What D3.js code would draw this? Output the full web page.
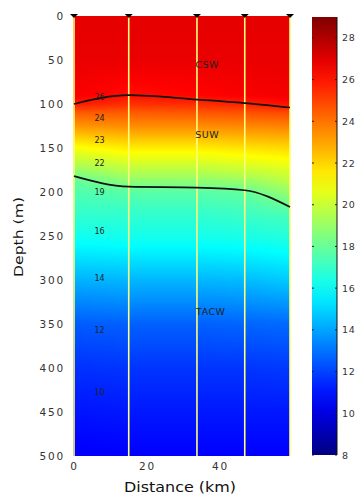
<!DOCTYPE html>
<html>
<head>
<meta charset="utf-8">
<script src="https://cdn.jsdelivr.net/npm/d3@7"></script>
<style>
  body { margin: 0; background: #fff; }
  text { font-family: "DejaVu Sans", sans-serif; }
</style>
</head>
<body>
<div id="chart"></div>
<script>
// Data
const stationKm = [0, 15, 33.7, 46.8, 59.2];
const depthLevels = [0, 50, 90, 100, 110, 125, 150, 175, 185, 200, 225, 250, 300, 350, 400, 450, 500];
// temperature profiles (°C), one per station, at depthLevels
const tempProfiles = [
  [26.9, 26.8, 26.5, 25.9, 24.5, 23.3, 21.0, 19.0, 18.0, 17.5, 16.9, 16.2, 14.3, 12.5, 11.6, 11.0, 10.5],
  [26.9, 26.8, 26.1, 25.4, 24.5, 23.5, 21.5, 19.7, 19.0, 17.7, 16.9, 16.3, 14.4, 12.6, 11.7, 11.1, 10.6],
  [26.9, 26.8, 26.3, 25.5, 24.6, 23.5, 21.5, 19.7, 19.0, 17.7, 16.9, 16.3, 14.4, 12.6, 11.7, 11.1, 10.6],
  [26.9, 26.8, 26.5, 25.7, 24.7, 23.6, 21.7, 20.0, 19.2, 17.9, 17.1, 16.4, 14.5, 12.7, 11.7, 11.1, 10.6],
  [26.9, 26.8, 26.6, 26.1, 24.9, 23.7, 21.9, 20.4, 19.9, 19.0, 17.4, 16.6, 14.8, 12.8, 11.8, 11.1, 10.6]
];
// water mass boundaries
const upperKm = [0, 15, 33.7, 46.8, 59.2];
const upperDepth = [100, 90, 95, 99, 104];
const lowerKm = [0, 15, 33.7, 46.8, 59.2];
const lowerDepth = [182, 194, 195, 198, 217];
// isotherm labels
const isoLabels = ["26", "24", "23", "22", "19", "16", "14", "12", "10"];
const isoLabelDepth = [92, 116, 141, 167, 200, 245, 298, 357, 428];
const isoLabelKm = 7;
// water masses
const massNames = ["CSW", "SUW", "TACW"];
const massKm = [36.5, 36.5, 37.5];
const massDepth = [55, 135, 336];

const xTicks = [0, 20, 40];
const yTicks = [0, 50, 100, 150, 200, 250, 300, 350, 400, 450, 500];
const cTicks = [8, 10, 12, 14, 16, 18, 20, 22, 24, 26, 28];
const cDomain = [8, 29];

// Dimensions
const width = 364, height = 500;
const plot = { left: 73, right: 290, top: 16, bottom: 456 };
const cbar = { left: 312, right: 337, top: 17, bottom: 455 };

const svg = d3.select("#chart").append("svg")
  .attr("width", width).attr("height", height);

// Scales
const xScale = d3.scaleLinear().domain([0, 59.2]).range([plot.left + 1, plot.right]);
const yScale = d3.scaleLinear().domain([0, 500]).range([plot.top, plot.bottom]);

const clamp = (v) => Math.max(0, Math.min(1, v));
const jet = (t) => d3.rgb(
  255 * clamp(1.5 - Math.abs(4 * t - 3)),
  255 * clamp(1.5 - Math.abs(4 * t - 2)),
  255 * clamp(1.5 - Math.abs(4 * t - 1))
);
const color = d3.scaleSequential(jet).domain(cDomain);

// profile lookup per station
const profileAt = tempProfiles.map((p) => d3.scaleLinear().domain(depthLevels).range(p).clamp(true));
const kmIdx = d3.scaleLinear().domain(stationKm).range(d3.range(stationKm.length)).clamp(true);

// Field (canvas -> image)
const pw = plot.right - plot.left, ph = plot.bottom - plot.top;
const canvas = document.createElement("canvas");
canvas.width = pw; canvas.height = ph;
const ctx = canvas.getContext("2d");
const img = ctx.createImageData(pw, ph);
for (let j = 0; j < ph; j++) {
  const depth = yScale.invert(plot.top + j + 0.5);
  const col = profileAt.map((f) => f(depth));
  for (let i = 0; i < pw; i++) {
    const km = xScale.invert(plot.left + i + 0.5);
    const k = kmIdx(km);
    const i0 = Math.min(Math.floor(k), stationKm.length - 2);
    const f = k - i0;
    const t = col[i0] * (1 - f) + col[i0 + 1] * f;
    const c = d3.rgb(color(t));
    const o = (j * pw + i) * 4;
    img.data[o] = c.r; img.data[o + 1] = c.g; img.data[o + 2] = c.b; img.data[o + 3] = 255;
  }
}
ctx.putImageData(img, 0, 0);
svg.append("image")
  .attr("x", plot.left).attr("y", plot.top)
  .attr("width", pw).attr("height", ph)
  .attr("preserveAspectRatio", "none")
  .attr("href", canvas.toDataURL());

// Station lines
svg.append("g").selectAll("line").data(stationKm).join("line")
  .attr("x1", (d) => xScale(d)).attr("x2", (d) => xScale(d))
  .attr("y1", plot.top).attr("y2", plot.bottom)
  .attr("stroke", "#ffff78").attr("stroke-width", 1.6);

// Boundaries
const line = d3.line().x((d) => xScale(d[0])).y((d) => yScale(d[1])).curve(d3.curveMonotoneX);
svg.append("path").datum(d3.zip(upperKm, upperDepth))
  .attr("d", line).attr("fill", "none").attr("stroke", "#111").attr("stroke-width", 1.7);
svg.append("path").datum(d3.zip(lowerKm, lowerDepth))
  .attr("d", line).attr("fill", "none").attr("stroke", "#111").attr("stroke-width", 1.7);

// Station markers
svg.append("g").selectAll("path").data(stationKm).join("path")
  .attr("transform", (d) => `translate(${xScale(d)},${plot.top})`)
  .attr("d", "M-4,-2L4,-2L0,2Z").attr("fill", "#000");

// Isotherm labels
svg.append("g").selectAll("text").data(isoLabels).join("text")
  .attr("x", xScale(isoLabelKm)).attr("y", (d, i) => yScale(isoLabelDepth[i]))
  .attr("text-anchor", "middle").attr("dy", "0.35em")
  .attr("font-size", 8).attr("fill", "#222")
  .text((d) => d);

// Water mass labels
svg.append("g").selectAll("text").data(massNames).join("text")
  .attr("x", (d, i) => xScale(massKm[i])).attr("y", (d, i) => yScale(massDepth[i]))
  .attr("text-anchor", "middle").attr("dy", "0.35em")
  .attr("font-size", 9.5).attr("fill", "#222")
  .style("letter-spacing", "0.5px")
  .text((d) => d);

// Axes
const yAxis = d3.axisLeft(yScale).tickValues(yTicks).tickSize(0).tickPadding(8);
const yAxisG = svg.append("g").attr("transform", `translate(${plot.left},0)`).call(yAxis);
yAxisG.select(".domain").remove();
yAxisG.selectAll("text").attr("font-size", 10.5).attr("fill", "#333")
  .attr("font-family", "DejaVu Sans").style("letter-spacing", "1.8px");

const xAxis = d3.axisBottom(xScale).tickValues(xTicks).tickSize(0).tickPadding(7);
const xAxisG = svg.append("g").attr("transform", `translate(0,${plot.bottom})`).call(xAxis);
xAxisG.select(".domain").remove();
xAxisG.selectAll("text").attr("font-size", 10.5).attr("fill", "#333")
  .attr("font-family", "DejaVu Sans").style("letter-spacing", "1.8px");

svg.append("text")
  .attr("x", 180).attr("y", 492).attr("text-anchor", "middle")
  .attr("font-size", 13.5).attr("fill", "#111")
  .attr("textLength", 112).attr("lengthAdjust", "spacingAndGlyphs")
  .text("Distance (km)");

svg.append("text")
  .attr("transform", `translate(23,237) rotate(-90)`).attr("text-anchor", "middle")
  .attr("font-size", 13).attr("fill", "#111")
  .attr("textLength", 80).attr("lengthAdjust", "spacingAndGlyphs")
  .text("Depth (m)");

// Colorbar
const cScale = d3.scaleLinear().domain(cDomain).range([cbar.bottom, cbar.top]);
const defs = svg.append("defs");
const grad = defs.append("linearGradient").attr("id", "jetgrad")
  .attr("x1", 0).attr("y1", 1).attr("x2", 0).attr("y2", 0);
grad.selectAll("stop").data(d3.range(0, 1.0001, 0.05)).join("stop")
  .attr("offset", (d) => d)
  .attr("stop-color", (d) => color(cDomain[0] + d * (cDomain[1] - cDomain[0])));
svg.append("rect")
  .attr("x", cbar.left).attr("y", cbar.top)
  .attr("width", cbar.right - cbar.left).attr("height", cbar.bottom - cbar.top)
  .attr("fill", "url(#jetgrad)");
svg.append("line")
  .attr("x1", cbar.right).attr("x2", cbar.right)
  .attr("y1", cbar.top).attr("y2", cbar.bottom)
  .attr("stroke", "#111").attr("stroke-width", 1);

const cAxis = d3.axisRight(cScale).tickValues(cTicks).tickSize(0).tickPadding(5);
const cAxisG = svg.append("g").attr("transform", `translate(${cbar.right},0)`).call(cAxis);
cAxisG.select(".domain").remove();
cAxisG.selectAll("text").attr("font-size", 9.5).attr("fill", "#333")
  .attr("font-family", "DejaVu Sans").style("letter-spacing", "0.8px");

// small inner ticks on the colorbar
const tickG = svg.append("g");
tickG.selectAll("line.l").data(cTicks).join("line").attr("class", "l")
  .attr("x1", cbar.left).attr("x2", cbar.left + 2)
  .attr("y1", (d) => cScale(d)).attr("y2", (d) => cScale(d))
  .attr("stroke", "#222");
tickG.selectAll("line.r").data(cTicks).join("line").attr("class", "r")
  .attr("x1", cbar.right - 2).attr("x2", cbar.right)
  .attr("y1", (d) => cScale(d)).attr("y2", (d) => cScale(d))
  .attr("stroke", "#222");
</script>
</body>
</html>
